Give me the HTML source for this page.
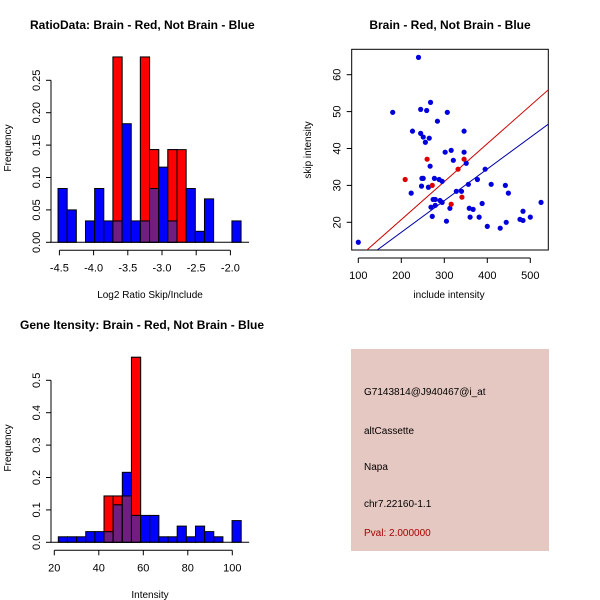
<!DOCTYPE html>
<html><head><meta charset="utf-8"><style>
body{margin:0;background:#fff;}
svg{display:block;font-family:"Liberation Sans",sans-serif;}
</style></head><body>
<svg id="c" width="600" height="600" viewBox="0 0 600 600"></svg>
<script>
// ---- data ----
const ratioBinStart = -4.52, ratioBinWidth = 0.1338;
const ratioBlue = [0.083,0.05,0,0.033,0.083,0.033,0.033,0.183,0.033,0.033,0.083,0.116,0.033,0,0.083,0.017,0.067,0,0,0.033];
const ratioRed  = [0,0,0,0,0,0,0.286,0,0,0.286,0.143,0,0.143,0.143,0,0,0,0,0,0];
const ratioXTicks = [-4.5,-4.0,-3.5,-3.0,-2.5,-2.0];
const ratioXLabels = ["-4.5","-4.0","-3.5","-3.0","-2.5","-2.0"];
const ratioYTicks = [0,0.05,0.10,0.15,0.20,0.25];
const ratioYLabels = ["0.00","0.05","0.10","0.15","0.20","0.25"];

const intBinStart = 21.8, intBinWidth = 4.11;
const intBlue = [0.017,0.017,0.017,0.033,0.033,0.033,0.116,0.216,0.083,0.083,0.083,0.017,0.017,0.05,0.017,0.05,0.033,0.017,0,0.067];
const intRed  = [0,0,0,0,0,0.143,0.143,0.143,0.571,0,0,0,0,0,0,0,0,0,0,0];
const intXTicks = [20,40,60,80,100];
const intYTicks = [0,0.1,0.2,0.3,0.4,0.5];
const intYLabels = ["0.0","0.1","0.2","0.3","0.4","0.5"];

const blueX = [100,240,180,245,259,268,307,284,226,245,251,256,265,346,302,316,321,346,351,267,248,251,277,288,295,377,395,247,263,223,328,340,356,409,442,449,274,279,290,295,279,269,272,313,358,367,360,381,388,305,400,430,444,476,483,483,500,525];
const blueY = [14.6,64.7,49.8,50.6,50.3,52.5,49.8,47.4,44.7,44.1,43.1,41.7,42.8,44.7,39,39.5,36.8,39,36,35.2,31.9,31.9,31.9,31.6,31.1,31.6,34.4,29.8,29.5,27.9,28.4,28.4,30.3,30.3,30,27.9,26.2,26.2,25.9,25.4,24.6,24.1,21.6,23.8,23.8,23.5,21.4,21.4,25.1,20.3,18.9,18.4,20,20.8,23,20.5,21.4,25.4];
const redX = [209,260,272,316,332,341,346];
const redY = [31.6,37.1,30,24.9,34.4,26.8,37.1];
const redFit = [0.1029, 0.15];   // slope, intercept
const blueFit = [0.0857, 0.16];
const scXTicks = [100,200,300,400,500];
const scYTicks = [20,30,40,50,60];

const NS = "http://www.w3.org/2000/svg";
const svg = document.getElementById('c');
function el(tag, attrs, parent){
  const e = document.createElementNS(NS, tag);
  for (const k in attrs) e.setAttribute(k, attrs[k]);
  (parent||svg).appendChild(e); return e;
}
function txt(x,y,s,size,opts){
  const t = el('text',{x:x,y:y,'font-size':size,fill:(opts&&opts.fill)||'#000','text-anchor':(opts&&opts.anchor)||'middle'});
  if (opts && opts.bold) t.setAttribute('font-weight','bold');
  if (opts && opts.rot) t.setAttribute('transform','rotate(-90 '+x+' '+y+')');
  t.textContent = s; return t;
}

function hist(cfg){
  const g = el('g',{});
  
  
  const sx = v => cfg.x0 + (v - cfg.xv0) * cfg.kx;
  const sy = v => cfg.y0 - v * cfg.ky;
  const n = cfg.blue.length;
  for (let i=0;i<n;i++){
    const a = sx(cfg.start + i*cfg.w), b = sx(cfg.start + (i+1)*cfg.w);
    const r = cfg.red[i], bl = cfg.blue[i];
    if (r>0){
      const rr = el('rect',{x:a,y:sy(r),width:b-a,height:sy(0)-sy(r),fill:'#ff0000',stroke:'#000','stroke-width':1},g);
      
      
    }
    if (bl>0){
      const br = el('rect',{x:a,y:sy(bl),width:b-a,height:sy(0)-sy(bl),fill:'#0000ff',stroke:'#000','stroke-width':1},g);
      
      
      if (r>0){
        const m = Math.min(r,bl);
        const pr = el('rect',{x:a,y:sy(m),width:b-a,height:sy(0)-sy(m),fill:'#701f80',stroke:'#000','stroke-width':1},g);
        
        
        if (r>bl){
          el('rect',{x:a,y:sy(r),width:b-a,height:sy(bl)-sy(r),fill:'#ff0000',stroke:'#000','stroke-width':1},g);
        }
      }
    }
  }
  el('line',{x1:sx(cfg.start)-8,x2:sx(cfg.start+n*cfg.w)+8,y1:sy(0),y2:sy(0),stroke:'#000'},g);
  const xa = el('g',{},g);
  
  
  const ay = cfg.y0 + 8;
  el('line',{x1:sx(cfg.xt[0]),x2:sx(cfg.xt[cfg.xt.length-1]),y1:ay,y2:ay,stroke:'#000'},xa);
  cfg.xt.forEach((v,i)=>{
    el('line',{x1:sx(v),x2:sx(v),y1:ay,y2:ay+5,stroke:'#000'},xa);
    txt(sx(v),ay+21,cfg.xl[i],11,{});
  });
  const ya = el('g',{},g);
  
  
  const ax = cfg.yAxisX;
  el('line',{x1:ax,x2:ax,y1:sy(cfg.yt[0]),y2:sy(cfg.yt[cfg.yt.length-1]),stroke:'#000'},ya);
  cfg.yt.forEach((v,i)=>{
    el('line',{x1:ax-5,x2:ax,y1:sy(v),y2:sy(v),stroke:'#000'},ya);
    txt(ax-11,sy(v),cfg.yl[i],11,{rot:true});
  });
}

let t;
t = txt(30,29,'RatioData: Brain - Red, Not Brain - Blue',12,{bold:true,anchor:'start'});
 
t = txt(450,29,'Brain - Red, Not Brain - Blue',12,{bold:true});
 
t = txt(20,329,'Gene Itensity: Brain - Red, Not Brain - Blue',12,{bold:true,anchor:'start'});
 

hist({name:'ratio-histogram',x0:59.4,xv0:-4.5,kx:68.4,y0:242.3,ky:648,start:ratioBinStart,w:ratioBinWidth,
  blue:ratioBlue,red:ratioRed,xt:ratioXTicks,xl:ratioXLabels,yt:ratioYTicks,yl:ratioYLabels,yAxisX:51});
t = txt(150,298,'Log2 Ratio Skip/Include',10,{});  
t = txt(11,148,'Frequency',10,{rot:true});  

hist({name:'intensity-histogram',x0:54.3,xv0:20,kx:2.225,y0:542.3,ky:324,start:intBinStart,w:intBinWidth,
  blue:intBlue,red:intRed,xt:intXTicks,xl:intXTicks.map(String),yt:intYTicks,yl:intYLabels,yAxisX:51});
t = txt(150,598,'Intensity',10,{});  
t = txt(11,448,'Frequency',10,{rot:true});  

(function(){
  const g = el('g',{});
  
  
  const L=351.7,R=548.3,T=49.3,B=250;
  const sx = v => 358.3 + (v-100)*0.43;
  const sy = v => 222.3 - (v-20)*3.69;
  const cp = el('clipPath',{id:'scclip'},g);
  el('rect',{x:L,y:T,width:R-L,height:B-T},cp);
  const fr = el('rect',{x:L,y:T,width:R-L,height:B-T,fill:'none',stroke:'#000'},g);
   
  const lg = el('g',{'clip-path':'url(#scclip)'},g);
  const xa = 50, xb = 600;
  let ln = el('line',{x1:sx(xa),y1:sy(redFit[0]*xa+redFit[1]),x2:sx(xb),y2:sy(redFit[0]*xb+redFit[1]),stroke:'#cc0000'},lg);
   
  ln = el('line',{x1:sx(xa),y1:sy(blueFit[0]*xa+blueFit[1]),x2:sx(xb),y2:sy(blueFit[0]*xb+blueFit[1]),stroke:'#0000aa'},lg);
   
  blueX.forEach((x,i)=>{
    const c = el('circle',{cx:sx(x),cy:sy(blueY[i]),r:2.6,fill:'#0000dd'},g);
     
  });
  redX.forEach((x,i)=>{
    const c = el('circle',{cx:sx(x),cy:sy(redY[i]),r:2.6,fill:'#dd0000'},g);
     
  });
  const ay = B+8;
  el('line',{x1:sx(100),x2:sx(500),y1:ay,y2:ay,stroke:'#000'},g);
  scXTicks.forEach(v=>{
    el('line',{x1:sx(v),x2:sx(v),y1:ay,y2:ay+5,stroke:'#000'},g);
    txt(sx(v),ay+21,String(v),11,{});
  });
  const ax = L;
  scYTicks.forEach(v=>{
    el('line',{x1:ax-5,x2:ax,y1:sy(v),y2:sy(v),stroke:'#000'},g);
    txt(ax-11,sy(v),String(v),11,{rot:true});
  });
  t = txt(449,298,'include intensity',10,{});  
  t = txt(311,150,'skip intensity',10,{rot:true});  
})();

(function(){
  const g = el('g',{});
  
  
  el('rect',{x:351,y:349,width:198,height:202,fill:'#e6c8c2'},g);
  const lines = [['G7143814@J940467@i_at',395,'#000'],['altCassette',434,'#000'],['Napa',470,'#000'],['chr7.22160-1.1',507,'#000'],['Pval: 2.000000',536,'#aa0000']];
  const names = ['probe-id','event-type','source','location','pval'];
  lines.forEach((l,i)=>{
    const tt = txt(364,l[1],l[0],10,{anchor:'start',fill:l[2]});
    
    
  });
})();
</script>
</body></html>
